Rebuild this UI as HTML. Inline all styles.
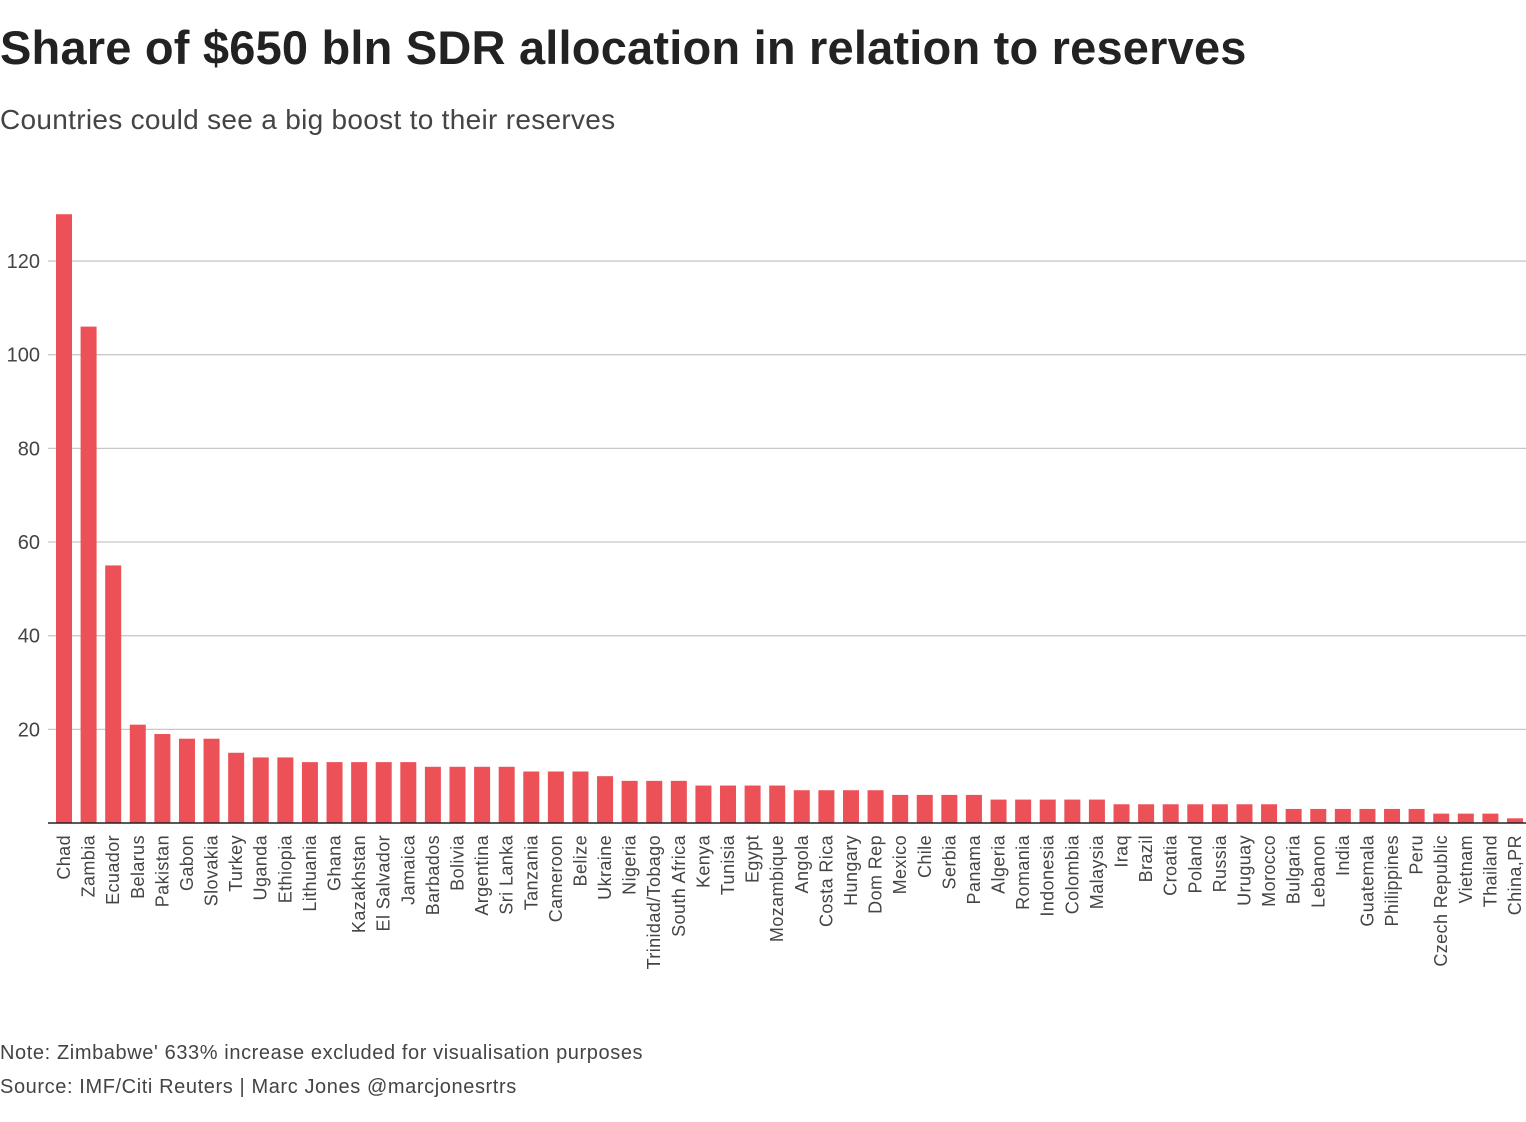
<!DOCTYPE html>
<html><head><meta charset="utf-8"><style>
body{margin:0;background:#fff;width:1526px;height:1122px;overflow:hidden;font-family:"Liberation Sans",sans-serif;}
#title{position:absolute;left:0;top:20px;font-size:47px;font-weight:bold;color:#222;letter-spacing:0.2px;white-space:nowrap}
#sub{position:absolute;left:0;top:104px;font-size:28px;color:#444;white-space:nowrap;letter-spacing:0.3px}
.foot{position:absolute;left:0;font-size:20px;color:#444;white-space:nowrap;letter-spacing:0.6px}
</style></head><body>
<div id="title">Share of $650 bln SDR allocation in relation to reserves</div>
<div id="sub">Countries could see a big boost to their reserves</div>
<svg id="chart" width="1526" height="1122" style="position:absolute;left:0;top:0"></svg>
<div class="foot" style="top:1042px">Note: Zimbabwe' 633% increase excluded for visualisation purposes</div>
<div class="foot" style="top:1076px">Source: IMF/Citi Reuters | Marc Jones @marcjonesrtrs</div>
<script>
const categories=["Chad","Zambia","Ecuador","Belarus","Pakistan","Gabon","Slovakia","Turkey","Uganda","Ethiopia","Lithuania","Ghana","Kazakhstan","El Salvador","Jamaica","Barbados","Bolivia","Argentina","Sri Lanka","Tanzania","Cameroon","Belize","Ukraine","Nigeria","Trinidad/Tobago","South Africa","Kenya","Tunisia","Egypt","Mozambique","Angola","Costa Rica","Hungary","Dom Rep","Mexico","Chile","Serbia","Panama","Algeria","Romania","Indonesia","Colombia","Malaysia","Iraq","Brazil","Croatia","Poland","Russia","Uruguay","Morocco","Bulgaria","Lebanon","India","Guatemala","Philippines","Peru","Czech Republic","Vietnam","Thailand","China,PR"];
const values=[130,106,55,21,19,18,18,15,14,14,13,13,13,13,13,12,12,12,12,11,11,11,10,9,9,9,8,8,8,8,7,7,7,7,6,6,6,6,5,5,5,5,5,4,4,4,4,4,4,4,3,3,3,3,3,3,2,2,2,1];
const yTicks=[20,40,60,80,100,120];
const NS="http://www.w3.org/2000/svg";
const svg=document.getElementById('chart');
const y0=823,pxPerUnit=4.683;
const y=v=>y0-v*pxPerUnit;
const xStart=64,step=(1515-64)/(categories.length-1),bw=16;
const x=i=>xStart+i*step;
function mk(t,a){const e=document.createElementNS(NS,t);for(const k in a)e.setAttribute(k,a[k]);svg.appendChild(e);return e;}
yTicks.forEach(t=>{
  const l=mk('line',{x1:48,x2:1526,y1:y(t),y2:y(t),stroke:'#c8c8c8','stroke-width':1.3});
  
  
  const tx=mk('text',{x:40,y:y(t)+7,'text-anchor':'end','font-size':20,fill:'#444','font-family':'Liberation Sans, sans-serif'});
  tx.textContent=t;
  
  
});
categories.forEach((c,i)=>{
  const r=mk('rect',{x:x(i)-bw/2,y:y(values[i]),width:bw,height:values[i]*pxPerUnit,fill:'#ec5158'});
  
  
  const t=mk('text',{transform:`translate(${x(i)+6},835) rotate(-90)`,'text-anchor':'end','font-size':18,'letter-spacing':0.4,fill:'#444','font-family':'Liberation Sans, sans-serif'});
  t.textContent=c;
  
  
});
const ax=mk('line',{x1:48,x2:1526,y1:y0,y2:y0,stroke:'#222','stroke-width':1.5});


</script>
</body></html>
